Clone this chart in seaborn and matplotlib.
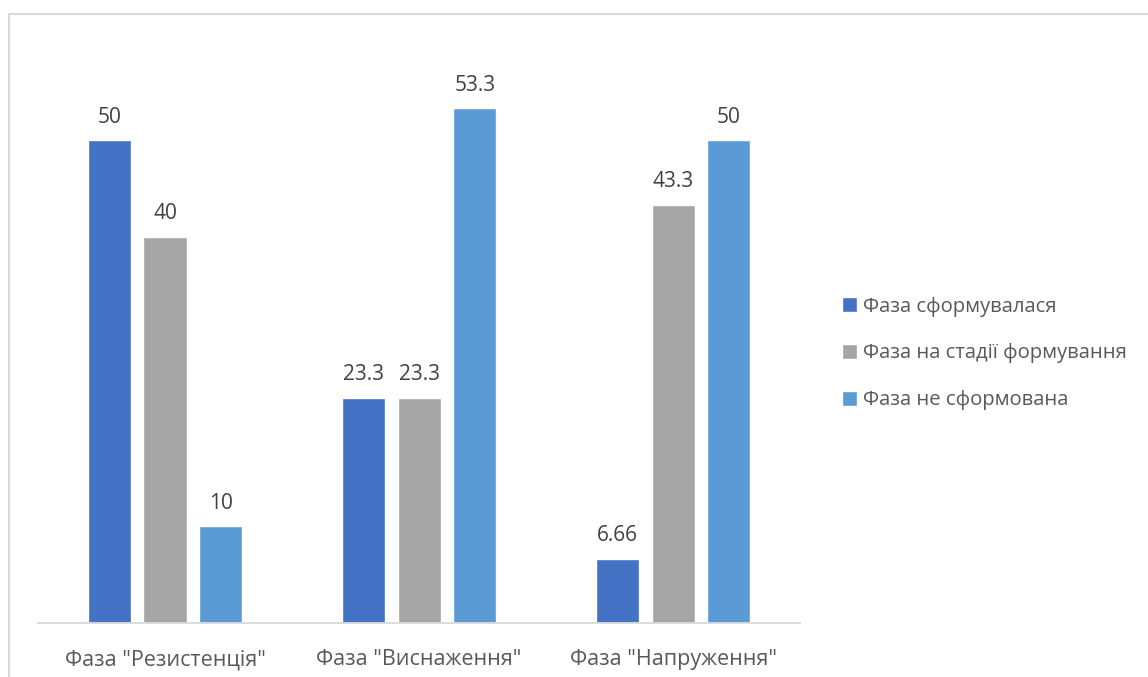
import pandas as pd
import seaborn as sns
import matplotlib.pyplot as plt
from matplotlib.patches import Rectangle

# chart data
phases = ['Фаза "Резистенція"', 'Фаза "Виснаження"', 'Фаза "Напруження"']
series = ["Фаза сформувалася", "Фаза на стадії формування", "Фаза не сформована"]
formed = [50, 23.3, 6.66]
forming = [40, 23.3, 43.3]
not_formed = [10, 53.3, 50]
colors = ["#4472C4", "#A5A5A5", "#5B9BD5"]

# long table for seaborn
rows = []
for name, vals in zip(series, [formed, forming, not_formed]):
    for ph, v in zip(phases, vals):
        rows.append({"phase": ph, "series": name, "value": v})
df = pd.DataFrame(rows)

sns.set_style("white")
plt.rcParams["font.family"] = ["Open Sans", "DejaVu Sans"]
text_color = "#595959"

fig = plt.figure(figsize=(11.48, 6.77), dpi=100)
ax = fig.add_axes([0.0331, 0.0798, 0.6638, 0.8759])

sns.barplot(data=df, x="phase", y="value", hue="series", order=phases,
            hue_order=series, palette=colors, width=0.66, gap=0.23,
            saturation=1, errorbar=None, ax=ax)

# value labels on top of bars
for cont in ax.containers:
    ax.bar_label(cont, fmt="%g", padding=9, fontsize=15, color="#404040")

ax.set_xlim(-0.5, 2.5)
ax.set_ylim(0, 61.4)
ax.set_xlabel("")
ax.set_ylabel("")
ax.set_yticks([])
ax.tick_params(axis="x", length=0, pad=19, labelsize=15.5, labelcolor=text_color)
for side in ["top", "left", "right"]:
    ax.spines[side].set_visible(False)
ax.spines["bottom"].set_color("#D9D9D9")
ax.spines["bottom"].set_linewidth(1.3)

# legend with small square handles
handles, labels = ax.get_legend_handles_labels()
ax.legend(handles, labels, loc="center left", bbox_to_anchor=(0.7247, 0.478),
          bbox_transform=fig.transFigure, frameon=False, fontsize=14.6,
          labelcolor=text_color, handlelength=0.75, handleheight=0.75,
          handletextpad=0.3, labelspacing=1.32, borderpad=0)

# outer chart frame (cropped by image edges)
fig.patches.append(Rectangle((9 / 1148, -0.1), 1.2, 1.0 - 14 / 677 + 0.1,
                             transform=fig.transFigure, fill=False,
                             edgecolor="#D9D9D9", linewidth=1.5))

fig.savefig("out.png", dpi=100)
